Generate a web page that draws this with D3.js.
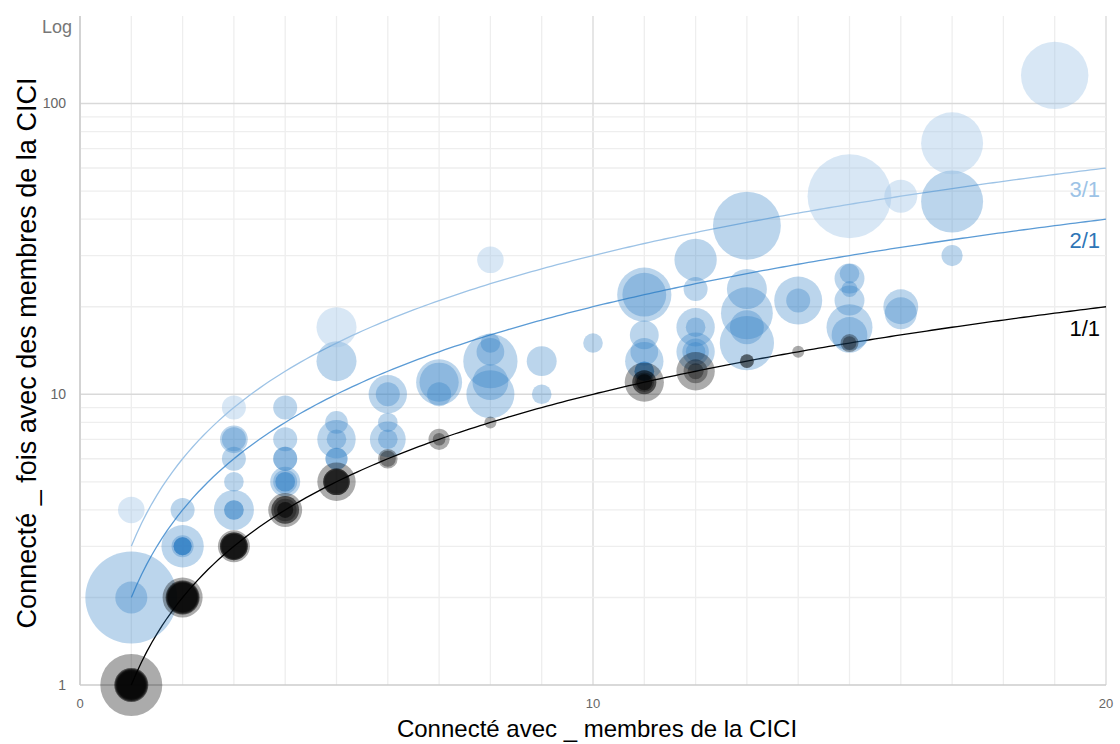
<!DOCTYPE html>
<html><head><meta charset="utf-8">
<script src="https://cdn.jsdelivr.net/npm/d3@7"></script>
<style>body{margin:0;background:#fff;} svg{display:block;font-family:"Liberation Sans",Arial,sans-serif;}</style>
</head><body><svg id="c" width="1120" height="744"></svg>
<script>
const xTicks = [0, 10, 20];
const yTicks = [1, 10, 100];
const ratios = [3, 2, 1];
const ratioLabels = ["3/1", "2/1", "1/1"];
const xTitle = "Connecté avec _ membres de la CICI";
const yTitle = "Connecté _ fois avec des membres de la CICI";
// [membres, fois, poids]
const bulles = [
 [1,2,132],[1,2,16],[1,4,11],
 [2,3,28],[2,3,7.6],[2,3,5],[2,3,5],[2,3,5],[2,3,5],[2,4,9],
 [3,4,25],[3,4,6],[3,4,6],[3,5,6],[3,6,9],[3,7,12],[3,7,9],[3,9,9],
 [4,5,14],[4,5,9],[4,5,6],[4,5,6],[4,6,9],[4,6,9],[4,7,9],[4,9,9],
 [5,6,7.6],[5,6,7.6],[5,7,23],[5,7,6],[5,8,8],[5,13,25],[5,17,25],
 [6,7,20],[6,7,6],[6,8,6],[6,10,23],[6,10,9],
 [7,10,9],[7,11,33],[7,11,24],
 [8,10,36],[8,11,20],[8,13,46],[8,14,12],[8,15,6],[8,29,11],
 [9,10,6],[9,13,14],
 [10,15,6],
 [11,12,6],[11,12,6],[11,12,6],[11,13,23],[11,14,12],[11,16,13],[11,22,46],[11,22,30],
 [12,14,23],[12,14,11],[12,14,6],[12,17,23],[12,17,6],[12,23,9],[12,29,28],
 [13,15,46],[13,17,18],[13,19,42],[13,23,25],[13,38,72],
 [14,21,36],[14,21,9],
 [15,16,20],[15,17,33],[15,21,14],[15,23,4],[15,25,14],[15,26,6],[15,48,110],
 [16,19,16],[16,20,19],[16,48,17],
 [17,30,7],[17,46,60],[17,73,60],
 [19,125,71],
 [1,1,60],[1,1,18],[1,1,18],[1,1,16],[1,1,16],[1,1,14],[1,1,14],[1,1,12],
 [2,2,25],[2,2,18],[2,2,18],[2,2,16],[2,2,16],[2,2,14],[2,2,14],
 [3,3,16],[3,3,12],[3,3,12],[3,3,12],[3,3,10],[3,3,10],
 [4,4,18],[4,4,12],[4,4,12],[4,4,8],[4,4,4],[4,4,4],
 [5,5,23],[5,5,11],[5,5,11],[5,5,11],[5,5,9],
 [6,6,6],[6,6,4],
 [7,7,7],[7,7,2.5],
 [8,8,2.25],
 [11,11,24],[11,11,9],[11,11,9],[11,11,6],[11,11,4],[11,11,4],
 [12,12,23],[12,12,9],[12,12,4],
 [13,13,3],[13,13,3],
 [14,14,2.25],
 [15,15,5],[15,15,3]
];

const svg = d3.select("#c");
const L = 80, R = 1106, T = 16, B = 685;
const x = d3.scaleLinear().domain([0, 20]).range([L, R]);
const y = d3.scaleLog().domain([1, 200]).range([B, T]);
const rad = d3.scaleSqrt().domain([0, 100]).range([0, 40]);

// grid
const g = svg.append("g");
g.selectAll(".vx").data(d3.range(0, 21)).join("line")
  .attr("x1", d => x(d)).attr("x2", d => x(d)).attr("y1", T).attr("y2", B)
  .attr("stroke", d => d % 10 === 0 ? "#d9d9d9" : "#eeeeee").attr("stroke-width", 1.3);
g.selectAll(".hy").data(y.ticks().filter(v => v > 1 && v < 200)).join("line")
  .attr("x1", L).attr("x2", R).attr("y1", d => y(d)).attr("y2", d => y(d))
  .attr("stroke", d => yTicks.includes(d) ? "#d9d9d9" : "#eeeeee").attr("stroke-width", 1.3);
// axis lines
svg.append("line").attr("x1", L).attr("x2", L).attr("y1", T).attr("y2", B).attr("stroke", "#cccccc").attr("stroke-width", 1.5);
svg.append("line").attr("x1", L).attr("x2", R).attr("y1", B).attr("y2", B).attr("stroke", "#cccccc").attr("stroke-width", 1.5);

// ratio lines
const lineColors = ["#9dc3e6", "#5b9bd5", "#000000"];
const labelColors = ["#9dc3e6", "#2e75b6", "#000000"];
const xs = d3.range(1, 20.001, 0.1);
ratios.forEach((k, i) => {
  svg.append("path").datum(xs)
    .attr("d", d3.line().x(v => x(v)).y(v => y(k * v)))
    .attr("fill", "none").attr("stroke", lineColors[i]).attr("stroke-width", 1.3);
  svg.append("text").attr("x", 1100).attr("y", y(k * 20) + 29)
    .attr("text-anchor", "end").attr("font-size", 22).attr("fill", labelColors[i]).text(ratioLabels[i]);
});

// bubbles
function fillOf(d) { const q = d[1] / d[0]; if (q === 1) return "#000000"; if (q >= 3) return "#9dc3e6"; return "#2b7bc4"; }
function opOf(d) { const q = d[1] / d[0]; if (q === 1) return 0.33; if (q >= 3) return 0.4; return 0.32; }
svg.append("g").selectAll("circle").data(bulles).join("circle")
  .attr("cx", d => x(d[0])).attr("cy", d => y(d[1])).attr("r", d => rad(d[2]))
  .attr("fill", fillOf).attr("fill-opacity", opOf);

// tick labels
svg.append("g").selectAll("text").data(xTicks).join("text")
  .attr("x", d => x(d)).attr("y", 708).attr("text-anchor", "middle")
  .attr("font-size", 13).attr("fill", "#666").text(d => d);
svg.append("g").selectAll("text").data(yTicks).join("text")
  .attr("x", 66).attr("y", d => y(d)).attr("dy", "0.35em").attr("text-anchor", "end")
  .attr("font-size", 14).attr("fill", "#666").text(d => d);
svg.append("text").attr("x", 72).attr("y", 33).attr("text-anchor", "end")
  .attr("font-size", 18).attr("fill", "#777").text("Log");

// axis titles
svg.append("text").attr("x", 597).attr("y", 737).attr("text-anchor", "middle")
  .attr("font-size", 24).attr("fill", "#000").text(xTitle);
svg.append("text").attr("transform", "translate(36,353) rotate(-90)").attr("text-anchor", "middle")
  .attr("font-size", 27).attr("fill", "#000").text(yTitle);
</script></body></html>
